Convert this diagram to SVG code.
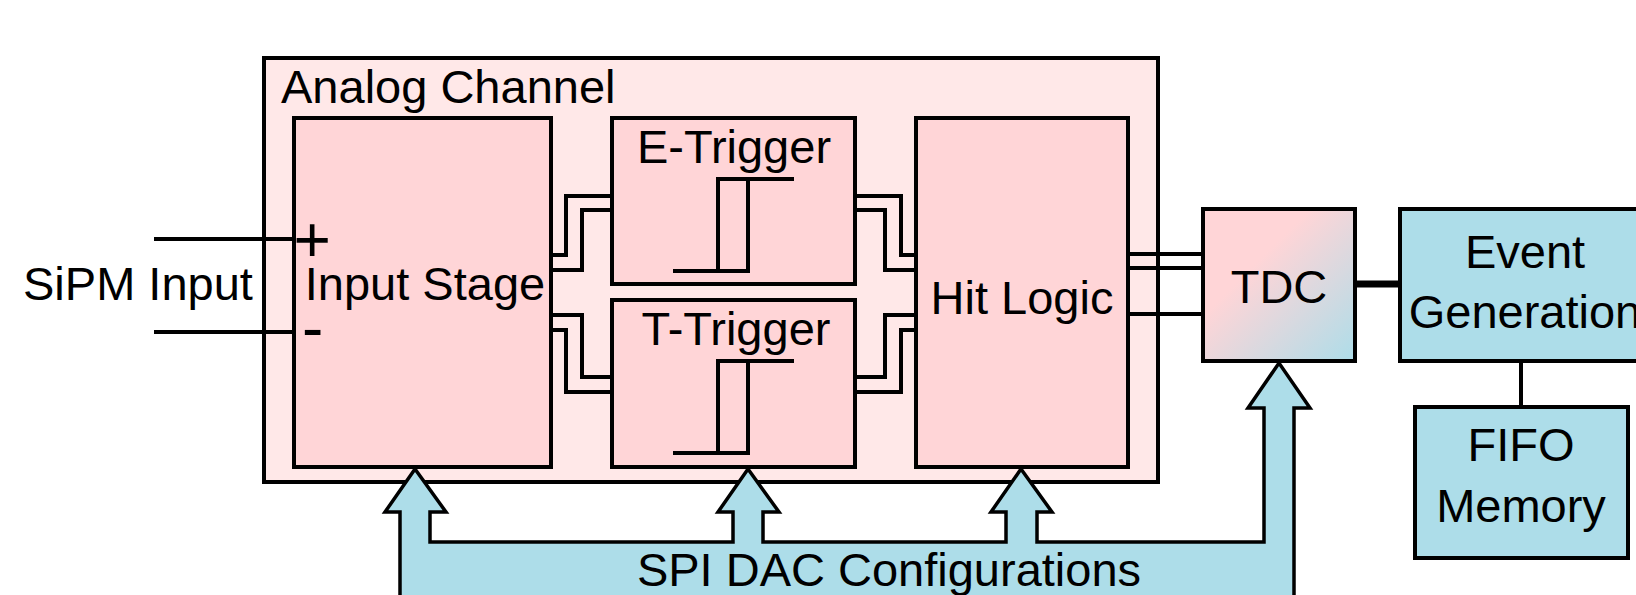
<svg xmlns="http://www.w3.org/2000/svg" width="1636" height="595" viewBox="0 0 1636 595">
  <style>
    .box { stroke: #000; stroke-width: 4; stroke-linejoin: miter; }
    .outer { fill: #FFE8E8; }
    .pink { fill: #FFD5D7; }
    .blue { fill: #ADDDE9; }
    .wire { fill: none; stroke: #000; stroke-width: 4; stroke-linejoin: miter; stroke-linecap: butt; }
    .wire.bus { stroke-width: 7; }
    .label { font-family: "Liberation Sans", Arial, sans-serif; font-size: 47px; fill: #000; }
    .mid { text-anchor: middle; }
    .sign { font-family: "Liberation Sans", Arial, sans-serif; font-size: 64px; fill: #000; }
  </style>
  <defs>
    <linearGradient id="tdcFill" x1="0" y1="0" x2="1" y2="1">
      <stop offset="0" stop-color="#FFD5D7"/>
      <stop offset="0.35" stop-color="#FFD5D7"/>
      <stop offset="1" stop-color="#ADDDE9"/>
    </linearGradient>
  </defs>

  <!-- analog channel container -->
  <g id="analog-channel">
    <rect class="box outer" x="264" y="58" width="894" height="424"/>
    <text class="label" x="281" y="103">Analog Channel</text>
  </g>

  <!-- SPI configuration bus with its four arrowheads -->
  <g id="spi-dac-configurations">
    <path class="blue" stroke="#000" stroke-width="3.5" stroke-linejoin="miter"
      d="M400,600 V512 H385 L415,469 L446,512 H430 V542 H733 V512 H718 L748,469 L779,512 H763 V542 H1006 V512 H991 L1021,469 L1052,512 H1037 V542 H1264 V408 H1248 L1279,363 L1310,408 H1294 V600 Z"/>
    <text class="label mid" x="889" y="586">SPI DAC Configurations</text>
  </g>

  <g id="sipm-input">
    <text class="label" x="23" y="300">SiPM Input</text>
  </g>

  <g id="input-stage">
    <rect class="box pink" x="294" y="118" width="257" height="349"/>
    <text class="label mid" x="425" y="300">Input Stage</text>
    <text class="sign" x="293.5" y="262">+</text>
    <text class="sign" x="302" y="349.5">-</text>
  </g>

  <g id="e-trigger">
    <rect class="box pink" x="612" y="118" width="243" height="166"/>
    <text class="label mid" x="734" y="163">E-Trigger</text>
    <path class="wire" d="M673,271 H748 V179 M718,271 V179 H794"/>
  </g>

  <g id="t-trigger">
    <rect class="box pink" x="612" y="300" width="243" height="167"/>
    <text class="label mid" x="736" y="345">T-Trigger</text>
    <path class="wire" d="M673,453 H748 V361 M718,453 V361 H794"/>
  </g>

  <g id="hit-logic">
    <rect class="box pink" x="916" y="118" width="212" height="349"/>
    <text class="label mid" x="1022" y="314">Hit Logic</text>
  </g>

  <g id="tdc">
    <rect class="box" fill="url(#tdcFill)" x="1203" y="209" width="152" height="152"/>
    <text class="label mid" x="1279" y="303">TDC</text>
  </g>

  <g id="event-generation">
    <rect class="box blue" x="1400" y="209" width="260" height="152"/>
    <text class="label mid" x="1525" y="268">Event</text>
    <text class="label mid" x="1525" y="328">Generation</text>
  </g>

  <g id="fifo-memory">
    <rect class="box blue" x="1415" y="407" width="213" height="151"/>
    <text class="label mid" x="1521" y="461">FIFO</text>
    <text class="label mid" x="1521" y="522">Memory</text>
  </g>

  <!-- signal connections -->
  <g id="connectors">
    <path class="wire" d="M154,239 H294 M154,332 H294"/>
    <path class="wire" d="M551,255 H566 V196 H612 M551,270 H582 V210 H612"/>
    <path class="wire" d="M551,315 H582 V377 H612 M551,330 H566 V392 H612"/>
    <path class="wire" d="M855,196 H901 V255 H916 M855,210 H885 V270 H916"/>
    <path class="wire" d="M855,377 H885 V315 H916 M855,392 H901 V330 H916"/>
    <path class="wire" d="M1128,254 H1203 M1128,268 H1203 M1128,314 H1203"/>
    <path class="wire bus" d="M1355,284 H1400"/>
    <path class="wire" d="M1521,361 V407"/>
  </g>
</svg>
